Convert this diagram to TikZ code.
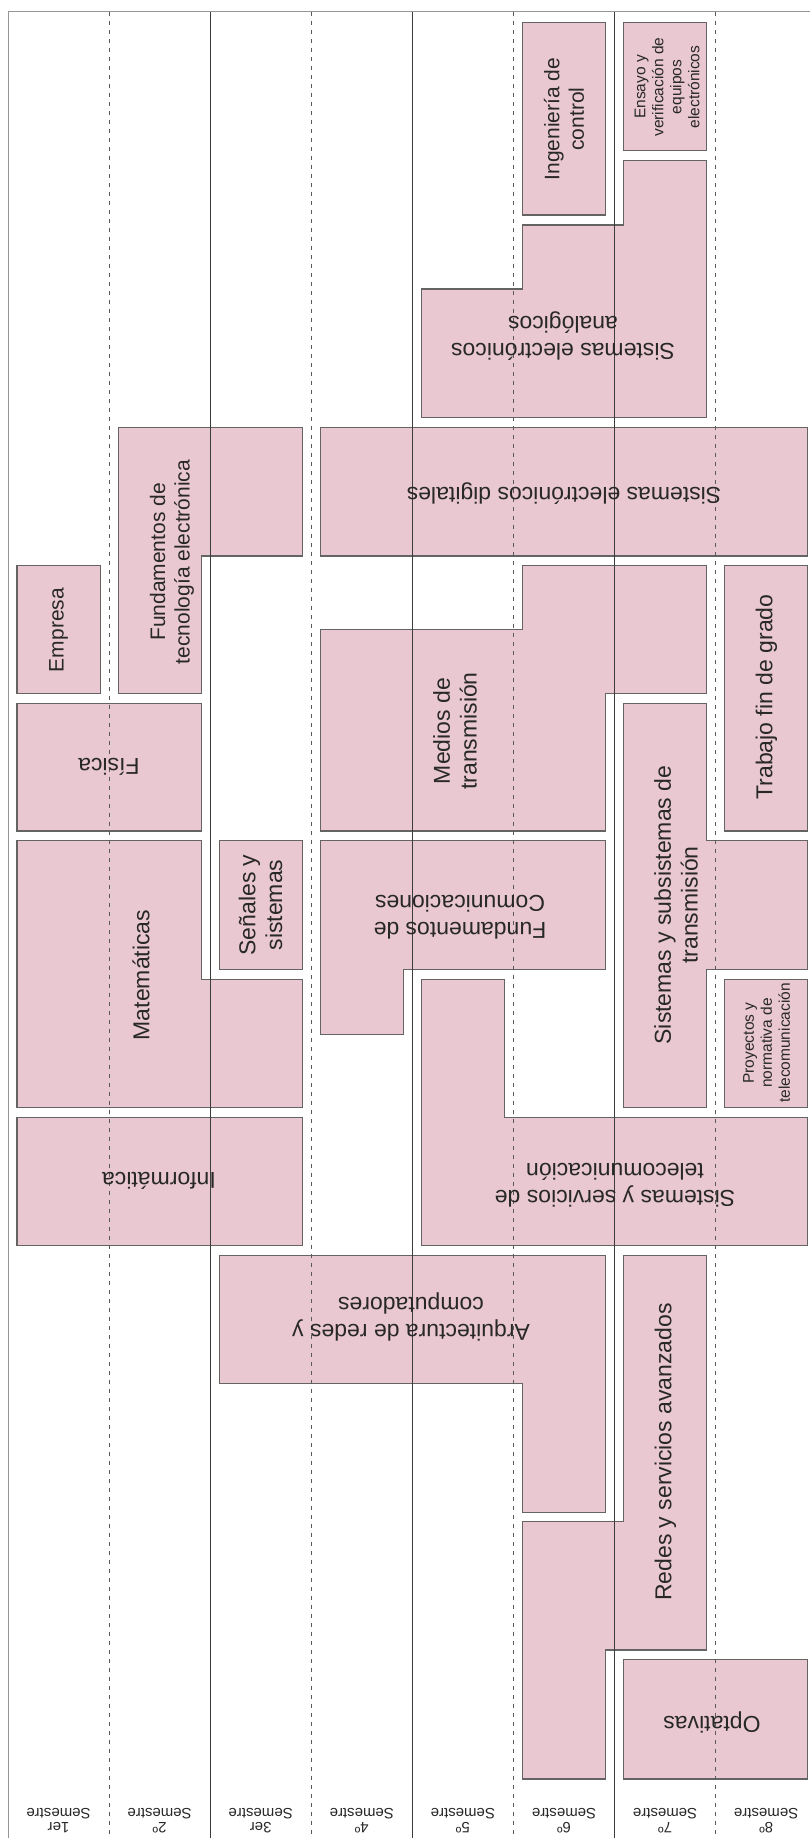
\documentclass[tikz,border=0pt]{standalone}
\usepackage{fontspec}
\setmainfont{Liberation Sans}
\definecolor{boxpink}{RGB}{233,200,209}
\definecolor{boxline}{RGB}{100,100,100}
\definecolor{gridsolid}{RGB}{60,60,60}
\definecolor{griddash}{RGB}{90,90,90}
\definecolor{frameline}{RGB}{150,150,150}
\definecolor{txt}{RGB}{40,40,40}
\tikzset{
  box/.style={fill=boxpink, draw=boxline, line width=1.2pt, line join=miter},
  gsolid/.style={draw=gridsolid, line width=0.8pt},
  gdash/.style={draw=griddash, line width=0.8pt, dash pattern=on 4pt off 5pt},
  gframe/.style={draw=frameline, line width=0.9pt},
  lab/.style={text=txt, align=center, inner sep=0pt, font=\fontsize{23}{26.7}\selectfont},
  labm/.style={lab, font=\fontsize{21}{24.5}\selectfont},
  labs/.style={lab, font=\fontsize{15.5}{18}\selectfont},
  seml/.style={lab, font=\fontsize{15}{14}\selectfont, rotate=180},
  vlab/.style={rotate=90},
  hlab/.style={rotate=180}
}
\begin{document}
\begin{tikzpicture}[x=1pt,y=-1pt]
\useasboundingbox (0,0) rectangle (810,1838);
% ---- boxes ----
\path[box] (522.5,22.7) rectangle (605.6,215);
\path[box] (623.6,22.7) rectangle (706.7,150.7);
\path[box] (421.4,289) -- (522.5,289) -- (522.5,225) -- (623.6,225) -- (623.6,160.7) -- (706.7,160.7) -- (706.7,417.3) -- (421.4,417.3) -- cycle;
\path[box] (320.3,427.3) rectangle (807.8,556);
\path[box] (118.1,427.3) -- (302.3,427.3) -- (302.3,556) -- (201.2,556) -- (201.2,693.7) -- (118.1,693.7) -- cycle;
\path[box] (17,565.7) rectangle (100.1,693.7);
\path[box] (17,703.3) rectangle (201.2,831);
\path[box] (522.5,565.7) -- (706.7,565.7) -- (706.7,693.7) -- (605.6,693.7) -- (605.6,831) -- (320.3,831) -- (320.3,629.3) -- (522.5,629.3) -- cycle;
\path[box] (724.7,565.7) rectangle (807.8,831);
\path[box] (623.6,703.3) -- (706.7,703.3) -- (706.7,840.7) -- (807.8,840.7) -- (807.8,969.3) -- (706.7,969.3) -- (706.7,1107.7) -- (623.6,1107.7) -- cycle;
\path[box] (17,840.7) -- (201.2,840.7) -- (201.2,979.3) -- (302.3,979.3) -- (302.3,1107.7) -- (17,1107.7) -- cycle;
\path[box] (219.2,840.7) rectangle (302.3,969.3);
\path[box] (320.3,840.7) -- (605.6,840.7) -- (605.6,969.3) -- (403.4,969.3) -- (403.4,1034.3) -- (320.3,1034.3) -- cycle;
\path[box] (421.4,979.3) -- (504.5,979.3) -- (504.5,1117.3) -- (807.8,1117.3) -- (807.8,1245.7) -- (421.4,1245.7) -- cycle;
\path[box] (724.7,979.3) rectangle (807.8,1107.7);
\path[box] (17,1117.3) rectangle (302.3,1245.7);
\path[box] (219.2,1255.3) -- (605.6,1255.3) -- (605.6,1512.3) -- (522.5,1512.3) -- (522.5,1383.3) -- (219.2,1383.3) -- cycle;
\path[box] (623.6,1255.3) -- (706.7,1255.3) -- (706.7,1650) -- (605.6,1650) -- (605.6,1779) -- (522.5,1779) -- (522.5,1521.7) -- (623.6,1521.7) -- cycle;
\path[box] (623.6,1659.3) rectangle (807.8,1779);
% ---- grid ----
\draw[gframe] (8,11.7) -- (810,11.7);
\draw[gframe] (8,11.7) -- (8,1838);
\foreach \gx in {210.2,412.4,614.6} \draw[gsolid] (\gx,11.7) -- (\gx,1838);
\foreach \gx in {109.1,311.3,513.5,715.7} \draw[gdash] (\gx,11.7) -- (\gx,1838);
% ---- labels ----
\node[labm,vlab] (ing) at (564,119) {Ingeniería de\\control};
\node[labs,vlab] (ens) at (667,87) {Ensayo y\\verificación de\\equipos\\electrónicos};
\node[lab,hlab] (sea) at (563,336) {Sistemas electrónicos\\analógicos};
\node[lab,hlab] (sed) at (564,494) {Sistemas electrónicos digitales};
\node[labm,vlab] (fte) at (172,562) {Fundamentos de\\tecnología electrónica};
\node[labm,vlab] (emp) at (58.5,630) {Empresa};
\node[lab,hlab] (fis) at (109,767) {Física};
\node[lab,vlab] (mat) at (141,975) {Matemáticas};
\node[lab,vlab] (sys) at (260.5,905) {Señales y\\sistemas};
\node[lab,hlab] (fco) at (460,917) {Fundamentos de\\Comunicaciones};
\node[lab,vlab] (mtr) at (455,731) {Medios de\\transmisión};
\node[lab,vlab] (tfg) at (766.5,697) {Trabajo fin de grado};
\node[lab,vlab] (sst) at (676,905) {Sistemas y subsistemas de\\transmisión};
\node[labs,vlab] (pnt) at (766.5,1043) {Proyectos y\\normativa de\\telecomunicación};
\node[lab,hlab] (inf) at (159,1181) {Informática};
\node[lab,hlab] (sstel) at (615,1185) {Sistemas y servicios de\\telecomunicación};
\node[lab,hlab] (arq) at (411,1317) {Arquitectura de redes y\\computadores};
\node[lab,vlab] (rsa) at (665.5,1452) {Redes y servicios avanzados};
\node[lab,hlab] (opt) at (712,1722) {Optativas};
% ---- semester labels ----
\node[seml] (s1) at (58.5,1821) {1er\\Semestre};
\node[seml] (s2) at (159.6,1821) {2º\\Semestre};
\node[seml] (s3) at (260.7,1821) {3er\\Semestre};
\node[seml] (s4) at (361.8,1821) {4º\\Semestre};
\node[seml] (s5) at (462.9,1821) {5º\\Semestre};
\node[seml] (s6) at (564.0,1821) {6º\\Semestre};
\node[seml] (s7) at (665.1,1821) {7º\\Semestre};
\node[seml] (s8) at (766.2,1821) {8º\\Semestre};
\end{tikzpicture}
\end{document}
